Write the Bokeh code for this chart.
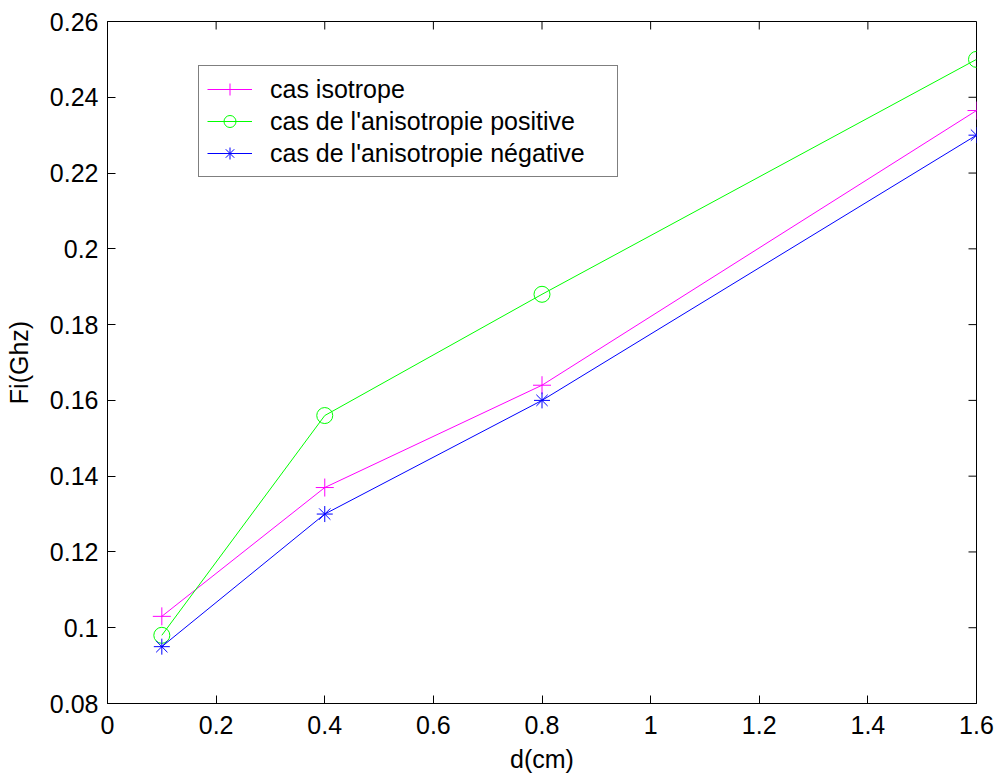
import math
from bokeh.plotting import figure
from bokeh.models import Range1d, FixedTicker, Legend, LegendItem
from bokeh.embed import file_html
from bokeh.resources import INLINE

# Thickness d (cm) and resonance frequency Fi (GHz) for the three cases
d_cm = [0.1, 0.4, 0.8, 1.6]
fi_isotrope = [0.103, 0.137, 0.164, 0.2365]
fi_aniso_pos = [0.098, 0.156, 0.188, 0.250]
fi_aniso_neg = [0.095, 0.130, 0.160, 0.230]

series_names = ["cas isotrope",
                "cas de l'anisotropie positive",
                "cas de l'anisotropie négative"]

x_lim = [0.0, 1.6]
y_lim = [0.08, 0.26]
x_ticks = [0.0, 0.2, 0.4, 0.6, 0.8, 1.0, 1.2, 1.4, 1.6]
x_tick_labels = ["0", "0.2", "0.4", "0.6", "0.8", "1", "1.2", "1.4", "1.6"]
y_ticks = [0.08, 0.10, 0.12, 0.14, 0.16, 0.18, 0.20, 0.22, 0.24, 0.26]
y_tick_labels = ["0.08", "0.1", "0.12", "0.14", "0.16", "0.18", "0.2",
                 "0.22", "0.24", "0.26"]

FONT = "Liberation Sans"
FS = "25px"
TICK_LEN = 8

p = figure(width=996, height=778, output_backend="svg", toolbar_location=None,
           x_range=Range1d(*x_lim), y_range=Range1d(*y_lim),
           min_border_left=107, min_border_right=20,
           min_border_top=21, min_border_bottom=75,
           x_axis_label="d(cm)", y_axis_label="Fi(Ghz)")
p.background_fill_color = "white"
p.border_fill_color = "white"
p.outline_line_color = "black"
p.outline_line_width = 1
p.xgrid.visible = False
p.ygrid.visible = False

for ax, ticks, labels in ((p.xaxis[0], x_ticks, x_tick_labels),
                          (p.yaxis[0], y_ticks, y_tick_labels)):
    ax.ticker = FixedTicker(ticks=ticks)
    ax.major_label_overrides = {t: l for t, l in zip(ticks, labels)}
    ax.major_tick_in = TICK_LEN
    ax.major_tick_out = 0
    ax.minor_tick_in = 0
    ax.minor_tick_out = 0
    ax.axis_line_color = "black"
    ax.major_tick_line_color = "black"
    ax.major_label_text_font = FONT
    ax.major_label_text_font_size = FS
    ax.major_label_text_color = "black"
    ax.axis_label_text_font = FONT
    ax.axis_label_text_font_size = FS
    ax.axis_label_text_font_style = "normal"
    ax.axis_label_text_color = "black"

p.xaxis[0].major_label_standoff = 12
p.yaxis[0].major_label_standoff = 9
p.xaxis[0].axis_label_standoff = 8
p.yaxis[0].axis_label_standoff = 14

# Mirrored inward ticks along the top and right edges of the box
p.ray(x=x_ticks, y=[y_lim[1]] * len(x_ticks), length=TICK_LEN,
      length_units="screen", angle=-math.pi / 2, line_color="black",
      line_width=1)
p.ray(x=[x_lim[1]] * len(y_ticks), y=y_ticks, length=TICK_LEN,
      length_units="screen", angle=math.pi, line_color="black",
      line_width=1)

# Series: line plus marker
l1 = p.line(d_cm, fi_isotrope, line_color="#ff00ff", line_width=1)
m1 = p.scatter(d_cm, fi_isotrope, marker="cross", size=18,
               line_color="#ff00ff", line_width=1)
l2 = p.line(d_cm, fi_aniso_pos, line_color="#00ff00", line_width=1)
m2 = p.scatter(d_cm, fi_aniso_pos, marker="circle", size=16,
               line_color="#00ff00", fill_color=None, line_width=1)
l3 = p.line(d_cm, fi_aniso_neg, line_color="#0000ff", line_width=1)
m3 = p.scatter(d_cm, fi_aniso_neg, marker="asterisk", size=16,
               line_color="#0000ff", line_width=1)

legend = Legend(items=[
    LegendItem(label=series_names[0], renderers=[l1, m1]),
    LegendItem(label=series_names[1], renderers=[l2, m2]),
    LegendItem(label=series_names[2], renderers=[l3, m3]),
], location=(91, 526))
legend.label_text_font = FONT
legend.label_text_font_size = FS
legend.label_text_color = "black"
legend.glyph_width = 45
legend.glyph_height = 30
legend.label_height = 30
legend.label_width = 339
legend.label_standoff = 18
legend.spacing = 2
legend.padding = 8
legend.margin = 0
legend.border_line_color = "black"
legend.border_line_width = 1
legend.background_fill_color = "white"
legend.background_fill_alpha = 1.0
p.add_layout(legend, "center")

open("out.html", "w").write(file_html(p, INLINE))
